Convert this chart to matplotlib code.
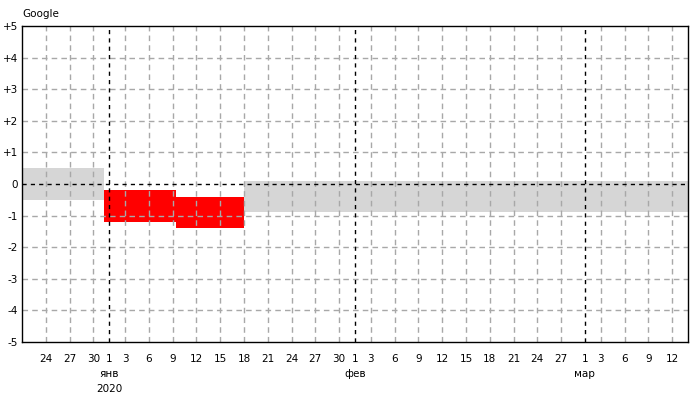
import matplotlib
matplotlib.use("Agg")
import matplotlib.pyplot as plt
import matplotlib.dates as mdates
from datetime import datetime

# period edges and the band of each period
edges = ["2019-12-21 00:00", "2019-12-31 08:00", "2020-01-09 09:00",
         "2020-01-18 00:00", "2020-03-14 00:00"]
upper = [0.5, -0.2, -0.4, 0.1]
lower = [-0.5, -1.2, -1.4, -0.9]
colors = ["#d6d6d6", "#ff0000", "#ff0000", "#d6d6d6"]

months = [(2019, 12), (2020, 1), (2020, 2), (2020, 3)]
month_names = {12: "", 1: "янв", 2: "фев", 3: "мар"}
last_day = {12: 30, 1: 30, 2: 27, 3: 12}
first_day = {12: 24, 1: 1, 2: 1, 3: 1}

plt.rcParams["font.family"] = ["DejaVu Sans"]
plt.rcParams["font.size"] = 7.5

fig = plt.figure(figsize=(7, 4), dpi=100)
ax = fig.add_axes([22 / 700, 1 - 342 / 400, 666 / 700, 316 / 400])

x = [mdates.date2num(datetime.strptime(e, "%Y-%m-%d %H:%M")) for e in edges]
for i in range(len(upper)):
    ax.bar(x[i], upper[i] - lower[i], width=x[i + 1] - x[i], bottom=lower[i],
           align="edge", color=colors[i], linewidth=0, zorder=1)

ticks, labels = [], []
for (yr, mo) in months:
    days = [1] + list(range(3, 31, 3))
    for d in days:
        if d < first_day[mo] or d > last_day[mo]:
            continue
        t = mdates.date2num(datetime(yr, mo, d))
        ticks.append(t)
        if d == 1:
            lab = "%d\n%s" % (d, month_names[mo])
            if mo == 1:
                lab += "\n%d" % yr
            labels.append(lab)
            ax.axvline(t, color="black", linestyle=(0, (3, 3)), linewidth=1, zorder=3)
        else:
            labels.append(str(d))
            ax.axvline(t, color="#a8a8a8", linestyle=(0, (4, 3)), linewidth=1, zorder=2)

yticks = list(range(-5, 6))
for v in yticks:
    if v == 0:
        ax.axhline(v, color="black", linestyle=(0, (3, 3)), linewidth=1, zorder=3)
    elif abs(v) < 5:
        ax.axhline(v, color="#a8a8a8", linestyle=(0, (4, 3)), linewidth=1, zorder=2)

ax.set_xlim(x[0], x[-1])
ax.set_ylim(-5, 5)
ax.set_xticks(ticks)
ax.set_xticklabels(labels, linespacing=1.6, va="top")
ax.set_yticks(yticks)
ax.set_yticklabels(["+%d" % v if v > 0 else str(v) for v in yticks])
ax.tick_params(axis="both", length=0, colors="black")
ax.tick_params(axis="x", pad=9)
ax.tick_params(axis="y", pad=3)
for s in ax.spines.values():
    s.set_color("black")
    s.set_linewidth(1)
    s.set_zorder(4)

fig.text(22 / 700, 1 - 14 / 400, "Google", fontsize=7.5, va="center", ha="left")

fig.savefig("out.png", dpi=100)
